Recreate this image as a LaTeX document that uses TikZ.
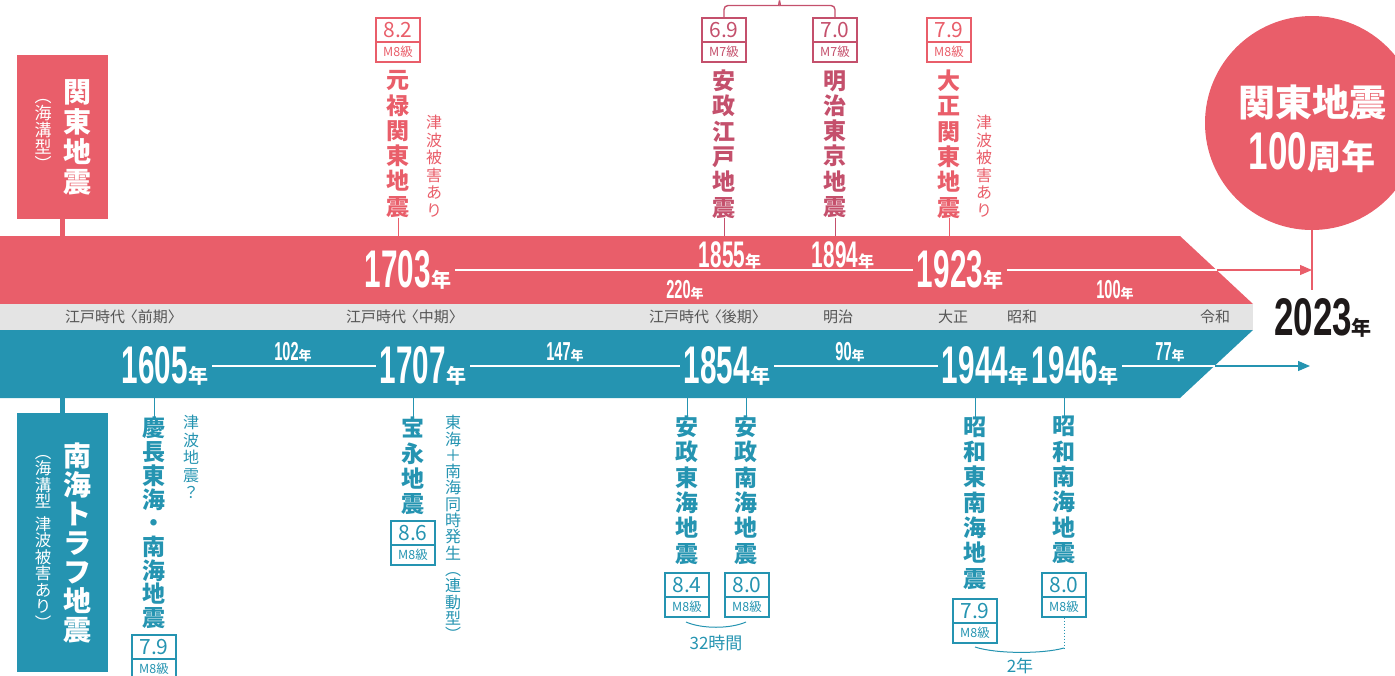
\documentclass[tikz,border=0pt]{standalone}
\usepackage{fontspec}
\setmainfont{Noto Sans CJK JP}
\newfontfamily\jp{Noto Sans CJK JP}
\newfontfamily\numf[FakeStretch=0.56]{Liberation Sans}
\newfontfamily\numw[FakeStretch=0.66]{Liberation Sans}
\usetikzlibrary{arrows.meta}
\definecolor{pk}{RGB}{233,94,106}
\definecolor{rose}{RGB}{196,80,108}
\definecolor{tl}{RGB}{37,148,177}
\definecolor{gb}{RGB}{228,228,228}
\definecolor{gt}{RGB}{85,85,85}
\definecolor{blk}{RGB}{30,25,25}
\newcommand\Yr[3]{{\numf\bfseries\fontsize{#1}{#1}\selectfont #3}{\jp\bfseries\fontsize{#2}{#2}\selectfont 年}}
\newcommand\Mag[6]{%
  \node[magt, draw=#6, text=#6] (#1t) at (#2,#3+12) {#4};
  \node[magb, draw=#6, text=#6] (#1b) at (#2,#3+34) {#5};
}
\newcommand\Lb{\kern-0.15em〈}
\newcommand\Rb{〉}
\tikzset{
  vl/.style={align=center, inner sep=0pt, font=\jp\bfseries\fontsize{23}{25.3}\selectfont},
  vs/.style={align=center, inner sep=0pt, font=\jp\fontsize{16}{17.5}\selectfont},
  magt/.style={minimum width=44, minimum height=24, inner sep=0pt, line width=1.1pt, font=\jp\fontsize{21}{21}\selectfont},
  magb/.style={minimum width=44, minimum height=20, inner sep=0pt, line width=1.1pt, font=\jp\fontsize{12.5}{12.5}\selectfont},
  yr/.style={text=white, inner sep=4pt},
  era/.style={text=gt, inner sep=0pt, font=\jp\fontsize{15}{15}\selectfont},
  wl/.style={white, line width=1.2pt},
  tick/.style={line width=1pt},
}
\begin{document}
\begin{tikzpicture}[x=1pt,y=-1pt]
\useasboundingbox (0,0) rectangle (1395,675);
\begin{scope}
\clip (0,0) rectangle (1395,675);
% bands
\fill[pk] (0,236) -- (1180,236) -- (1253,304) -- (0,304) -- cycle;
\fill[gb] (0,304) -- (1253,304) -- (1253,330) -- (0,330) -- cycle;
\fill[tl] (0,330) -- (1253,330) -- (1180,398) -- (0,398) -- cycle;
% circle
\node[circle, fill=pk, minimum size=214, inner sep=0pt] (c100) at (1312,123) {};
\node[text=white, inner sep=0pt, font=\jp\bfseries\fontsize{37}{37}\selectfont] (c100a) at (1312,102) {関東地震};
\node[text=white, inner sep=0pt] (c100b) at (1312,153) {{\numw\bfseries\fontsize{53}{53}\selectfont 100}{\jp\bfseries\fontsize{34}{34}\selectfont 周年}};
\node[text=blk, inner sep=0pt] (y2023) at (1323,318) {{\numw\bfseries\fontsize{53}{53}\selectfont 2023}{\jp\bfseries\fontsize{20}{20}\selectfont 年}};

% left labels
\node[fill=pk, minimum width=91, minimum height=164, inner sep=0pt] (kbox) at (62,136.5) {};
\node[text=white, align=center, inner sep=0pt, font=\jp\bfseries\fontsize{28}{30}\selectfont] (klab) at (77,137) {関\\東\\地\\震};
\node[text=white, align=center, inner sep=0pt, font=\jp\fontsize{17}{17}\selectfont] (klab2) at (43,135) {︵\\海\\溝\\型\\︶};
\coordinate (kband) at (62,236);
\draw[pk, line width=5pt] (kbox.south) -- (kband);

\node[fill=tl, minimum width=91, minimum height=259, inner sep=0pt] (nbox) at (62,542.5) {};
\node[text=white, align=center, inner sep=0pt, font=\jp\bfseries\fontsize{28}{29}\selectfont] (nlab) at (77,542.5) {南\\海\\ト\\ラ\\フ\\地\\震};
\node[text=white, align=center, inner sep=0pt, font=\jp\fontsize{16.5}{16.5}\selectfont] (nlab2) at (43,542) {︵\\海\\溝\\型\\[6pt]津\\波\\被\\害\\あ\\り\\︶};
\coordinate (nband) at (62,398);
\draw[tl, line width=5pt] (nband) -- (nbox.north);

% era labels
\node[era] (e1) at (124,317) {江戸時代\Lb 前期\Rb};
\node[era] (e2) at (405,317) {江戸時代\Lb 中期\Rb};
\node[era] (e3) at (708,317) {江戸時代\Lb 後期\Rb};
\node[era] (e4) at (838,317) {明治};
\node[era] (e5) at (953,317) {大正};
\node[era] (e6) at (1022,317) {昭和};
\node[era] (e7) at (1215,317) {令和};

% pink years
\node[yr] (y1703) at (408,270) {\Yr{53}{20}{1703}};
\node[yr] (y1855) at (730,255) {\Yr{37}{16}{1855}};
\node[yr] (y1894) at (843,255) {\Yr{37}{16}{1894}};
\node[yr] (y1923) at (960,270) {\Yr{53}{20}{1923}};
\node[yr] (d220) at (685,290) {\Yr{26}{13}{220}};
\node[yr] (d100) at (1115,290) {\Yr{26}{13}{100}};
\coordinate (pe) at (1217,270);
\coordinate (pa) at (1312,270);
\coordinate (pv) at (1312,290);
\draw[wl] (y1703) -- (y1923);
\draw[wl] (y1923) -- (pe);
\draw[pk, line width=1.2pt, -{Triangle[length=12pt,width=10pt]}] (pe) -- (pa);
\draw[pk, line width=1.2pt] (c100) -- (pv);

% teal years
\node[yr] (y1605) at (165,366) {\Yr{53}{20}{1605}};
\node[yr] (y1707) at (423,366) {\Yr{53}{20}{1707}};
\node[yr] (y1854) at (727,366) {\Yr{53}{20}{1854}};
\node[yr] (y1944) at (985,366) {\Yr{53}{20}{1944}};
\node[yr] (y1946) at (1075,366) {\Yr{53}{20}{1946}};
\node[yr] (d102) at (293,352) {\Yr{26}{13}{102}};
\node[yr] (d147) at (565,352) {\Yr{26}{13}{147}};
\node[yr] (d90) at (850,352) {\Yr{26}{13}{90}};
\node[yr] (d77) at (1170,352) {\Yr{26}{13}{77}};
\coordinate (te) at (1215,366);
\coordinate (ta) at (1310,366);
\draw[wl] (y1605) -- (y1707);
\draw[wl] (y1707) -- (y1854);
\draw[wl] (y1854) -- (y1944);
\draw[wl] (y1946) -- (te);
\draw[tl, line width=1.2pt, -{Triangle[length=12pt,width=10pt]}] (te) -- (ta);

% top labels
\node[vl, text=pk] (genroku) at (398,144) {元\\禄\\関\\東\\地\\震};
\node[vs, text=pk] (genrokuT) at (434,166) {津\\波\\被\\害\\あ\\り};
\node[vl, text=rose] (ansei) at (724,144) {安\\政\\江\\戸\\地\\震};
\node[vl, text=rose] (meiji) at (835,144) {明\\治\\東\\京\\地\\震};
\node[vl, text=pk] (taisho) at (949,144) {大\\正\\関\\東\\地\\震};
\node[vs, text=pk] (taishoT) at (984,166) {津\\波\\被\\害\\あ\\り};
\coordinate (tg) at (398,236);
\coordinate (ta1) at (724,236);
\coordinate (tm) at (835,236);
\coordinate (tt) at (949,236);
\draw[tick, pk] (genroku) -- (tg);
\draw[tick, rose] (ansei) -- (ta1);
\draw[tick, rose] (meiji) -- (tm);
\draw[tick, pk] (taisho) -- (tt);
\Mag{mg1}{398}{18}{8.2}{M8級}{pk}
\Mag{mg2}{724}{18}{6.9}{M7級}{rose}
\Mag{mg3}{835}{18}{7.0}{M7級}{rose}
\Mag{mg4}{949}{18}{7.9}{M8級}{pk}
\coordinate (bc) at (779.5,0.5);
\draw[rose, line width=1.4pt, rounded corners=4pt] (mg2t.north) |- (775,5.5) .. controls (778,5.5) and (779.5,3) .. (bc);
\draw[rose, line width=1.4pt, rounded corners=4pt] (mg3t.north) |- (784,5.5) .. controls (781,5.5) and (779.5,3) .. (bc);

% bottom labels
\node[vl, text=tl, font=\jp\bfseries\fontsize{23}{23.7}\selectfont] (keicho) at (154,523) {慶\\長\\東\\海\\・\\南\\海\\地\\震};
\node[vs, text=tl] (keichoT) at (191,457) {津\\波\\地\\震\\？};
\node[vl, text=tl] (hoei) at (413,466) {宝\\永\\地\\震};
\node[vs, text=tl, font=\jp\fontsize{16}{16.3}\selectfont] (hoeiT) at (453,528) {東\\海\\＋\\南\\海\\同\\時\\発\\生\\︵\\連\\動\\型\\︶};
\node[vl, text=tl] (anseiT) at (687,490) {安\\政\\東\\海\\地\\震};
\node[vl, text=tl] (anseiN) at (746,490) {安\\政\\南\\海\\地\\震};
\node[vl, text=tl] (showaT) at (975,503) {昭\\和\\東\\南\\海\\地\\震};
\node[vl, text=tl] (showaN) at (1064,490) {昭\\和\\南\\海\\地\\震};
\foreach \n/\x in {keicho/154, hoei/413, anseiT/687, anseiN/746, showaT/975, showaN/1064}{
  \coordinate (b\n) at (\x,398);
  \draw[tick, tl] (b\n) -- (\n);
}
\Mag{mb1}{154}{635}{7.9}{M8級}{tl}
\Mag{mb2}{413}{521}{8.6}{M8級}{tl}
\Mag{mb3}{687}{573}{8.4}{M8級}{tl}
\Mag{mb4}{747}{573}{8.0}{M8級}{tl}
\Mag{mb5}{975}{599}{7.9}{M8級}{tl}
\Mag{mb6}{1064}{573}{8.0}{M8級}{tl}
\coordinate (a1) at (686,622);
\coordinate (a2) at (746,622);
\draw[tl, line width=1pt] (a1) .. controls (702,629) and (730,629) .. (a2);
\node[text=tl, inner sep=0pt, font=\jp\fontsize{17}{17}\selectfont] (h32) at (716,643) {32時間};
\coordinate (a3) at (975,647);
\coordinate (a4) at (1064,648);
\draw[tl, line width=1pt, dotted] (mb6b.south) -- (a4);
\draw[tl, line width=1pt] (a3) .. controls (996,654) and (1043,654) .. (a4);
\node[text=tl, inner sep=0pt, font=\jp\fontsize{17}{17}\selectfont] (y2) at (1020,666) {2年};
\end{scope}
\end{tikzpicture}
\end{document}
